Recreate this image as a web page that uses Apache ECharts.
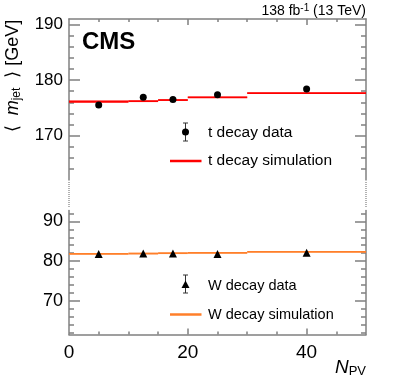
<!DOCTYPE html>
<html>
<head>
<meta charset="utf-8">
<script src="https://cdn.jsdelivr.net/npm/echarts@6/dist/echarts.min.js"></script>
<style>
  html, body { margin: 0; padding: 0; background: #fff; }
  #chart { width: 407px; height: 391px; }
</style>
</head>
<body>
<div id="chart"></div>
<script>
// bins of N_PV used by the simulation
const binLo = [0, 10, 15, 20, 30];
const binHi = [10, 15, 20, 30, 50];
// data points (bin centres)
const npv = [5, 12.5, 17.5, 25, 40];
const tData = [175.5, 176.9, 176.5, 177.35, 178.4];
const tSim = [176.1, 176.2, 176.4, 176.9, 177.65];
const tSimErr = [0.25, 0.12, 0.12, 0.12, 0.1];
const wData = [81.8, 81.9, 81.9, 81.8, 82.1];
const wSim = [81.8, 81.9, 82.0, 82.05, 82.3];
const wSimErr = [0.2, 0.2, 0.15, 0.2, 0.15];
// tick labels
const xLabels = [0, 20, 40];
const xMinor = [5, 10, 15, 25, 30, 35, 45];
const tMajor = [170, 180, 190];
const tMinor = [164, 166, 168, 172, 174, 176, 178, 182, 184, 186, 188];
const wMajor = [70, 80, 90];
const wMinor = [62, 64, 66, 68, 72, 74, 76, 78, 82, 84, 86, 88, 92];

const chart = echarts.init(document.getElementById("chart"));
const font = "'Liberation Sans', Arial, Helvetica, sans-serif";
const axisCol = "#808080";

function yAxes(grid, min, max, major, minor, fs) {
  const out = [];
  ["left", "right"].forEach((pos) => {
    out.push({
      type: "value", gridIndex: grid, position: pos, min: min, max: max,
      axisLine: { show: true, lineStyle: { color: axisCol, width: 1.5 } },
      splitLine: { show: false },
      axisTick: { show: true, inside: true, length: 11, customValues: major, lineStyle: { color: axisCol, width: 1.5 } },
      axisLabel: { show: pos === "left", customValues: major, color: "#000", fontSize: fs, fontFamily: font, margin: 6 },
    });
    out.push({
      type: "value", gridIndex: grid, position: pos, min: min, max: max,
      axisLine: { show: false }, splitLine: { show: false },
      axisTick: { show: true, inside: true, length: 5, customValues: minor, lineStyle: { color: axisCol, width: 1.5 } },
      axisLabel: { show: false },
    });
  });
  return out;
}

function xAxes(grid, pos, labels) {
  return [
    {
      type: "value", gridIndex: grid, position: pos, min: 0, max: 50,
      axisLine: { show: true, onZero: false, lineStyle: { color: axisCol, width: 1.5 } },
      splitLine: { show: false },
      axisTick: { show: true, inside: true, length: 6, customValues: [20, 40], lineStyle: { color: axisCol, width: 1.5 } },
      axisLabel: { show: labels, customValues: xLabels, color: "#000", fontSize: 19, fontFamily: font, margin: 9 },
    },
    {
      type: "value", gridIndex: grid, position: pos, min: 0, max: 50,
      axisLine: { show: false, onZero: false }, splitLine: { show: false },
      axisTick: { show: true, inside: true, length: 3, customValues: xMinor, lineStyle: { color: axisCol, width: 1.5 } },
      axisLabel: { show: false },
    },
  ];
}

function simSeries(xi, yi, vals, errs, line, band) {
  return {
    type: "custom",
    xAxisIndex: xi,
    yAxisIndex: yi,
    data: vals.map((v, i) => [binLo[i], binHi[i], v, errs[i]]),
    encode: { x: [0, 1], y: 2 },
    renderItem: function (params, api) {
      const a = api.coord([api.value(0), api.value(2) + api.value(3)]);
      const b = api.coord([api.value(1), api.value(2) - api.value(3)]);
      const c0 = api.coord([api.value(0), api.value(2)]);
      const c1 = api.coord([api.value(1), api.value(2)]);
      return {
        type: "group",
        children: [
          { type: "rect", shape: { x: a[0], y: a[1], width: b[0] - a[0], height: b[1] - a[1] }, style: { fill: band } },
          { type: "line", shape: { x1: c0[0], y1: c0[1], x2: c1[0], y2: c1[1] }, style: { stroke: line, lineWidth: 1.8 } },
        ],
      };
    },
    z: 2,
  };
}

const sub = { fontSize: 12, fontFamily: font, color: "#000", verticalAlign: "bottom", lineHeight: 12, padding: [6, 0, 0, 0] };

var option = {
  animation: false,
  backgroundColor: "#fff",
  grid: [
    { left: 69, right: 41, top: 19, height: 161 },
    { left: 69, right: 41, top: 210.5, height: 124 },
  ],
  xAxis: [].concat(xAxes(0, "top", false), xAxes(1, "bottom", true)),
  yAxis: [].concat(yAxes(0, 162, 191, tMajor, tMinor, 17), yAxes(1, 61.5, 92.75, wMajor, wMinor, 18)),
  series: [
    simSeries(0, 0, tSim, tSimErr, "#ff0000", "rgba(255,0,0,0.55)"),
    {
      type: "scatter", xAxisIndex: 0, yAxisIndex: 0,
      data: npv.map((x, i) => [x, tData[i]]),
      symbol: "circle", symbolSize: 7, itemStyle: { color: "#000", opacity: 1 }, z: 3,
    },
    simSeries(2, 4, wSim, wSimErr, "#ff7f2a", "rgba(255,160,100,0.45)"),
    {
      type: "scatter", xAxisIndex: 2, yAxisIndex: 4,
      data: npv.map((x, i) => [x, wData[i]]),
      symbol: "triangle", symbolSize: 8, itemStyle: { color: "#000", opacity: 1 }, z: 3,
    },
  ],
  graphic: [
    // broken-axis dotted connectors
    { type: "line", shape: { x1: 69, y1: 182, x2: 69, y2: 208 }, style: { stroke: "#999", lineWidth: 1.5, lineDash: [1, 1] } },
    { type: "line", shape: { x1: 366, y1: 182, x2: 366, y2: 208 }, style: { stroke: "#999", lineWidth: 1.5, lineDash: [1, 1] } },
    // CMS label and lumi
    { type: "text", x: 82, y: 42, style: { text: "CMS", font: "bold 24px " + font, fill: "#000", verticalAlign: "middle" } },
    {
      type: "text", x: 366, y: 11,
      style: {
        text: "{a|138 fb}{s|-1}{a| (13 TeV)}", align: "right", verticalAlign: "middle",
        rich: {
          a: { fontSize: 14, fontFamily: font, color: "#000", lineHeight: 16 },
          s: { fontSize: 10, fontFamily: font, color: "#000", verticalAlign: "top", lineHeight: 10, padding: [0, 0, 6, 0] },
        },
      },
    },
    // axis titles
    {
      type: "text", x: 13, y: 76, rotation: Math.PI / 2,
      style: {
        text: "{a|\u27e8  }{i|m}{s|jet}{a|  \u27e9 [GeV]}", align: "center", verticalAlign: "middle",
        rich: {
          a: { fontSize: 18, fontFamily: font, color: "#000", lineHeight: 20 },
          i: { fontSize: 18, fontFamily: font, fontStyle: "italic", color: "#000", lineHeight: 20 },
          s: sub,
        },
      },
    },
    {
      type: "text", x: 366, y: 368,
      style: {
        text: "{i|N}{s|PV}", align: "right", verticalAlign: "middle",
        rich: {
          i: { fontSize: 19, fontFamily: font, fontStyle: "italic", color: "#000", lineHeight: 20 },
          s: { fontSize: 13, fontFamily: font, color: "#000", verticalAlign: "bottom", lineHeight: 13, padding: [7, 0, 0, 0] },
        },
      },
    },
    // top legend
    { type: "line", shape: { x1: 185.5, y1: 123, x2: 185.5, y2: 141 }, style: { stroke: "#333", lineWidth: 1 } },
    { type: "line", shape: { x1: 183, y1: 123, x2: 188, y2: 123 }, style: { stroke: "#333", lineWidth: 1 } },
    { type: "line", shape: { x1: 183, y1: 141, x2: 188, y2: 141 }, style: { stroke: "#333", lineWidth: 1 } },
    { type: "circle", shape: { cx: 185.5, cy: 132, r: 3.5 }, style: { fill: "#000" } },
    { type: "text", x: 208, y: 133, style: { text: "t decay data", font: "15.5px " + font, fill: "#000", verticalAlign: "middle" } },
    { type: "line", shape: { x1: 170, y1: 161, x2: 201.5, y2: 161 }, style: { stroke: "#ff0000", lineWidth: 2.5 } },
    { type: "text", x: 208, y: 161, style: { text: "t decay simulation", font: "15.5px " + font, fill: "#000", verticalAlign: "middle" } },
    // bottom legend
    { type: "line", shape: { x1: 185.5, y1: 275, x2: 185.5, y2: 293 }, style: { stroke: "#333", lineWidth: 1 } },
    { type: "line", shape: { x1: 183, y1: 275, x2: 188, y2: 275 }, style: { stroke: "#333", lineWidth: 1 } },
    { type: "line", shape: { x1: 183, y1: 293, x2: 188, y2: 293 }, style: { stroke: "#333", lineWidth: 1 } },
    { type: "polygon", shape: { points: [[185.5, 280.5], [181.5, 288], [189.5, 288]] }, style: { fill: "#000" } },
    { type: "text", x: 208, y: 286, style: { text: "W decay data", font: "14.5px " + font, fill: "#000", verticalAlign: "middle" } },
    { type: "line", shape: { x1: 170, y1: 314.5, x2: 201.5, y2: 314.5 }, style: { stroke: "#ff7f2a", lineWidth: 2.5 } },
    { type: "text", x: 208, y: 314.5, style: { text: "W decay simulation", font: "14.5px " + font, fill: "#000", verticalAlign: "middle" } },
  ],
};

chart.setOption(option);
window.onresize = chart.resize;
</script>
</body>
</html>
